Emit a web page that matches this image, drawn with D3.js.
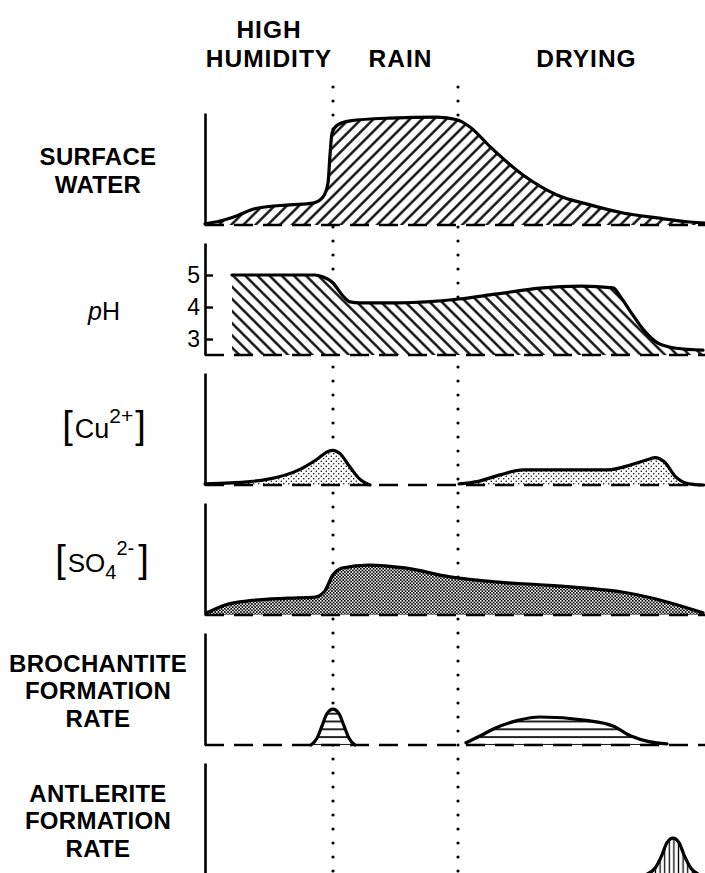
<!DOCTYPE html>
<html>
<head>
<meta charset="utf-8">
<script src="https://cdn.jsdelivr.net/npm/d3@7"></script>
<style>
  body { margin: 0; background: #fff; }
  svg text { font-family: "Liberation Sans", Arial, sans-serif; fill: #000; }
</style>
</head>
<body>
<svg id="chart" width="705" height="873"></svg>
<script>
// ---- data (time in arbitrary units 0..100, quantities in relative units) ----
const phaseBounds = [25.6, 50.6];
const phaseNames = [["HIGH", "HUMIDITY"], ["RAIN"], ["DRYING"]];

const surfaceWater = [
  [0, 0.01], [3, 0.036], [5.6, 0.07], [10.4, 0.15], [17, 0.18], [21.6, 0.196],
  [23.6, 0.25], [24.6, 0.375], [25, 0.625], [25.4, 0.82], [26.4, 0.89], [29, 0.93],
  [37, 0.955], [46.4, 0.964], [50.4, 0.94], [53, 0.875], [57, 0.70], [63.6, 0.446],
  [70.4, 0.268], [77, 0.18], [83.6, 0.107], [90.4, 0.063], [97, 0.027], [100, 0.018]
];

const pHValues = [
  [5.4, 5.0], [11, 5.0], [19, 5.0], [22, 5.0], [23.4, 4.95], [25.6, 4.75],
  [27.6, 4.34], [29, 4.16], [31, 4.13], [39, 4.13], [50.8, 4.25], [58, 4.4],
  [67, 4.59], [75.2, 4.65], [81.6, 4.6], [83.2, 4.3], [85, 3.88], [87.8, 3.27],
  [90.6, 2.87], [94.2, 2.71], [99.6, 2.65]
];
const pHTicks = [3, 4, 5];

const copperPeaks = [
  [[0, 0.01], [9, 0.03], [12.4, 0.05], [19, 0.14], [22.4, 0.23], [24.6, 0.30],
   [25.6, 0.31], [27, 0.28], [29, 0.16], [31, 0.05], [33, 0]],
  [[50.8, 0.01], [54.4, 0.03], [59, 0.09], [63.6, 0.135], [71.6, 0.135], [80.6, 0.135],
   [85.2, 0.18], [88.8, 0.23], [90, 0.245], [91.8, 0.21], [94.2, 0.07], [96.8, 0.01], [99.6, 0]]
];

const sulfate = [
  [0.4, 0.02], [4, 0.09], [9.4, 0.13], [16.6, 0.15], [22, 0.16], [23.8, 0.205],
  [25.6, 0.36], [27.4, 0.42], [32.8, 0.446], [40, 0.42], [49, 0.34], [58, 0.295],
  [67, 0.27], [76.2, 0.24], [83.4, 0.205], [89.6, 0.15], [96, 0.07], [99.6, 0.02]
];

const brochantite = [
  [[21.2, 0], [22.4, 0.06], [23.4, 0.17], [24.4, 0.28], [25.6, 0.32],
   [26.8, 0.28], [27.8, 0.17], [28.8, 0.06], [30, 0]],
  [[52.2, 0.02], [55, 0.08], [58, 0.15], [62.6, 0.22], [67, 0.25], [76.2, 0.22],
   [81.6, 0.17], [85.2, 0.08], [88.8, 0.03], [92.4, 0.01]]
];

const antlerite = [
  [[88, 0], [90, 0.06], [91.4, 0.18], [92.4, 0.29], [93.6, 0.33], [94.8, 0.29],
   [95.8, 0.18], [97.2, 0.06], [99, 0]]
];

// ---- layout ----
const svg = d3.select("#chart");
const x = d3.scaleLinear().domain([0, 100]).range([205, 705]);
const panelH = 112;
const panelTop = i => 113 + i * 130;
const labelX = 98;

// ---- fill patterns ----
const defs = svg.append("defs");
function hatch(id, angle, gap, w) {
  const p = defs.append("pattern").attr("id", id)
    .attr("patternUnits", "userSpaceOnUse").attr("width", gap).attr("height", gap)
    .attr("patternTransform", `rotate(${angle})`);
  p.append("rect").attr("width", gap).attr("height", gap).attr("fill", "#fff");
  p.append("line").attr("x1", gap / 2).attr("x2", gap / 2).attr("y1", 0).attr("y2", gap)
    .attr("stroke", "#000").attr("stroke-width", w);
}
hatch("hatchFwd", 45, 8.6, 2.3);
hatch("hatchBack", -45, 8.6, 2.3);
hatch("hatchHoriz", 90, 7.8, 1.7);
hatch("hatchVert", 0, 4.6, 1.3);

function dots(id, size, r, pts) {
  const p = defs.append("pattern").attr("id", id)
    .attr("patternUnits", "userSpaceOnUse").attr("width", size).attr("height", size);
  p.append("rect").attr("width", size).attr("height", size).attr("fill", "#fff");
  pts.forEach(([a, b]) => p.append("circle").attr("cx", a).attr("cy", b).attr("r", r).attr("fill", "#000"));
}
dots("dotsLight", 5, 0.75, [[1.25, 1.25], [3.75, 3.75]]);
dots("dotsDense", 3.2, 0.95, [[0.8, 0.8], [2.4, 2.4]]);

// ---- phase boundaries (dotted) ----
phaseBounds.forEach(t => {
  svg.append("line")
    .attr("x1", x(t)).attr("x2", x(t)).attr("y1", 87).attr("y2", 873)
    .attr("stroke", "#000").attr("stroke-width", 3.2)
    .attr("stroke-linecap", "round").attr("stroke-dasharray", "0,14");
});

// ---- phase headings ----
const edges = [0, ...phaseBounds, 100];
phaseNames.forEach((lines, i) => {
  const cx = (x(edges[i]) + x(edges[i + 1])) / 2 + (i === 0 ? 0 : 5);
  lines.forEach((s, j) => {
    svg.append("text")
      .attr("x", cx).attr("y", 67 - (lines.length - 1 - j) * 29)
      .attr("text-anchor", "middle")
      .attr("font-size", 24.5).attr("font-weight", "bold")
      .attr("letter-spacing", 1)
      .text(s);
  });
});

// ---- panels ----
const panels = [
  { label: ["SURFACE", "WATER"], series: [surfaceWater], fill: "hatchFwd", domain: [0, 1] },
  { label: null, series: [pHValues], fill: "hatchBack", domain: [2.5, 6], ticks: pHTicks },
  { label: null, series: copperPeaks, fill: "dotsLight", domain: [0, 1] },
  { label: null, series: [sulfate], fill: "dotsDense", domain: [0, 1] },
  { label: ["BROCHANTITE", "FORMATION", "RATE"], series: brochantite, fill: "hatchHoriz", domain: [0, 1] },
  { label: ["ANTLERITE", "FORMATION", "RATE"], series: antlerite, fill: "hatchVert", domain: [0, 1], noBase: true }
];

panels.forEach((pn, i) => {
  const top = panelTop(i), base = top + panelH;
  const y = d3.scaleLinear().domain(pn.domain).range([base, top]);
  const g = svg.append("g");

  const area = d3.area().curve(d3.curveMonotoneX)
    .x(d => x(d[0])).y0(base).y1(d => y(d[1]));
  const line = d3.line().curve(d3.curveMonotoneX)
    .x(d => x(d[0])).y(d => y(d[1]));

  pn.series.forEach(s => {
    g.append("path").attr("d", area(s)).attr("fill", `url(#${pn.fill})`);
  });

  if (!pn.noBase) {
    g.append("line")
      .attr("x1", x(0)).attr("x2", x(100)).attr("y1", base).attr("y2", base)
      .attr("stroke", "#000").attr("stroke-width", 2.6)
      .attr("stroke-dasharray", "19,10");
  }

  pn.series.forEach(s => {
    g.append("path").attr("d", line(s)).attr("fill", "none")
      .attr("stroke", "#000").attr("stroke-width", 3.2)
      .attr("stroke-linejoin", "round").attr("stroke-linecap", "round");
  });

  // vertical axis
  const axis = d3.axisLeft(y).tickSizeOuter(0);
  if (pn.ticks) axis.tickValues(pn.ticks).tickSizeInner(-8).tickPadding(5).tickFormat(d3.format("d"));
  else axis.tickValues([]);
  const ax = g.append("g").attr("transform", `translate(${x(0)},0)`).call(axis);
  ax.select(".domain").attr("stroke", "#000").attr("stroke-width", 2.6);
  ax.selectAll(".tick line").attr("stroke", "#000").attr("stroke-width", 2.4);
  ax.selectAll(".tick text")
    .attr("font-family", "Liberation Sans, Arial, sans-serif")
    .attr("font-size", 23).attr("fill", "#000");

  // quantity label
  if (pn.label) {
    const n = pn.label.length, lh = 27.5, mid = top + 58;
    pn.label.forEach((s, j) => {
      g.append("text")
        .attr("x", labelX).attr("y", mid + (j - (n - 1) / 2) * lh + 8)
        .attr("text-anchor", "middle")
        .attr("font-size", 24).attr("font-weight", "bold")
        .attr("letter-spacing", 0.3)
        .text(s);
    });
  }
});

// pH label
const phLabel = svg.append("text").attr("x", 104).attr("y", 320)
  .attr("text-anchor", "middle").attr("font-size", 25);
phLabel.append("tspan").attr("font-style", "italic").text("p");
phLabel.append("tspan").text("H");

// [Cu2+]
const cuLabel = svg.append("text").attr("x", 104).attr("y", 438)
  .attr("text-anchor", "middle");
cuLabel.append("tspan").attr("font-size", 38).text("[");
cuLabel.append("tspan").attr("font-size", 27).attr("dx", 2).text("Cu");
cuLabel.append("tspan").attr("font-size", 21).attr("dy", -15).text("2+");
cuLabel.append("tspan").attr("font-size", 38).attr("dy", 15).attr("dx", 2).text("]");

// [SO4 2-]
const soLabel = svg.append("text").attr("x", 102).attr("y", 572)
  .attr("text-anchor", "middle");
soLabel.append("tspan").attr("font-size", 38).text("[");
soLabel.append("tspan").attr("font-size", 26).attr("dx", 2).text("SO");
soLabel.append("tspan").attr("font-size", 20).attr("dy", 7).text("4");
soLabel.append("tspan").attr("font-size", 20).attr("dy", -24).text("2-");
soLabel.append("tspan").attr("font-size", 38).attr("dy", 17).attr("dx", 4).text("]");
</script>
</body>
</html>
